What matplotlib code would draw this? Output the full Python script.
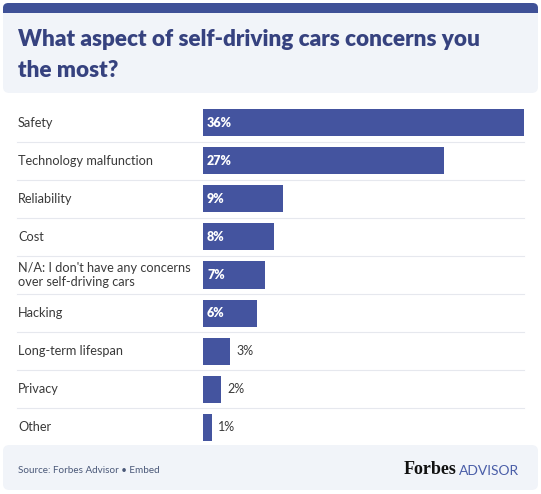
import matplotlib.pyplot as plt
from matplotlib.patches import FancyBboxPatch, Rectangle
import matplotlib.transforms as mtransforms

# data
categories = ["Safety", "Technology malfunction", "Reliability", "Cost",
              "N/A: I don't have any concerns\nover self-driving cars",
              "Hacking", "Long-term lifespan", "Privacy", "Other"]
values = [36, 27, 9, 8, 7, 6, 3, 2, 1]
labels = ["36%", "27%", "9%", "8%", "7%", "6%", "3%", "2%", "1%"]

W, H = 541, 494
bar_color = "#44549f"
navy = "#36427f"
panel = "#f1f4f9"

fig = plt.figure(figsize=(W / 100, H / 100), dpi=100)
fig.patch.set_facecolor("white")

def px(x, y):
    # pixel coords from top-left -> figure fraction
    return x / W, 1 - y / H

# title panel with dark top band
fig.patches.append(FancyBboxPatch(px(3, 93), 535 / W, 90 / H, boxstyle="round,pad=0,rounding_size=0.012",
                                  transform=fig.transFigure, fc=panel, ec="none", zorder=0))
fig.patches.append(FancyBboxPatch(px(3, 13), 535 / W, 10 / H, boxstyle="round,pad=0,rounding_size=0.01",
                                  transform=fig.transFigure, fc="#3f5197", ec="none", zorder=1))
fig.patches.append(Rectangle(px(3, 13), 535 / W, 4 / H, transform=fig.transFigure,
                             fc="#3f5197", ec="none", zorder=1))
fig.text(*px(18, 28.5), "What aspect of self-driving cars concerns you\nthe most?",
         fontsize=16.2, fontweight="heavy", color=navy, family="Lato",
         va="top", ha="left", linespacing=1.62)

# footer panel
fig.patches.append(FancyBboxPatch(px(3, 490), 535 / W, 45 / H, boxstyle="round,pad=0,rounding_size=0.012",
                                  transform=fig.transFigure, fc=panel, ec="none", zorder=0))
fig.text(*px(18, 470), "Source: Forbes Advisor \u2022 Embed", fontsize=7.1, color="#4a5878",
         family="Lato", va="center", ha="left")
fig.text(*px(404, 469), "Forbes", fontsize=13, fontweight="bold", color="#111111",
         family="Liberation Serif", va="center", ha="left")
fig.text(*px(459, 470.5), "ADVISOR", fontsize=10, color="#4a5ea8",
         family="Lato", va="center", ha="left")

# bar axes
left_px, right_px = 203, 524
top_px, bot_px = 103.5, 446.5
ax = fig.add_axes([left_px / W, 1 - bot_px / H, (right_px - left_px) / W, (bot_px - top_px) / H])
ax.set_xlim(0, 36)
ax.set_ylim(len(categories) - 0.5, -0.5)
ax.axis("off")

y = list(range(len(categories)))
ax.barh(y, values, height=0.71, color=bar_color, zorder=2)

blend = mtransforms.blended_transform_factory(fig.transFigure, ax.transData)
for i, (cat, v, lab) in enumerate(zip(categories, values, labels)):
    ax.text(18 / W, i, cat, transform=blend, fontsize=9.2, color="#3a3a3a",
            family="Lato", va="center", ha="left", linespacing=1.2)
    if v >= 5:
        ax.text(0.45, i, lab, fontsize=9, fontweight="heavy", color="white",
                family="Lato", va="center", ha="left", zorder=3)
    else:
        ax.text(v + 0.7, i, lab, fontsize=9, color="#3a3a3a",
                family="Lato", va="center", ha="left", zorder=3)
    if i < len(categories) - 1:
        ax.plot([17 / W, 524 / W], [i + 0.5, i + 0.5], transform=blend,
                color="#e6e8ee", lw=0.8, clip_on=False, zorder=1)

fig.savefig("out.png", dpi=100, facecolor="white")
